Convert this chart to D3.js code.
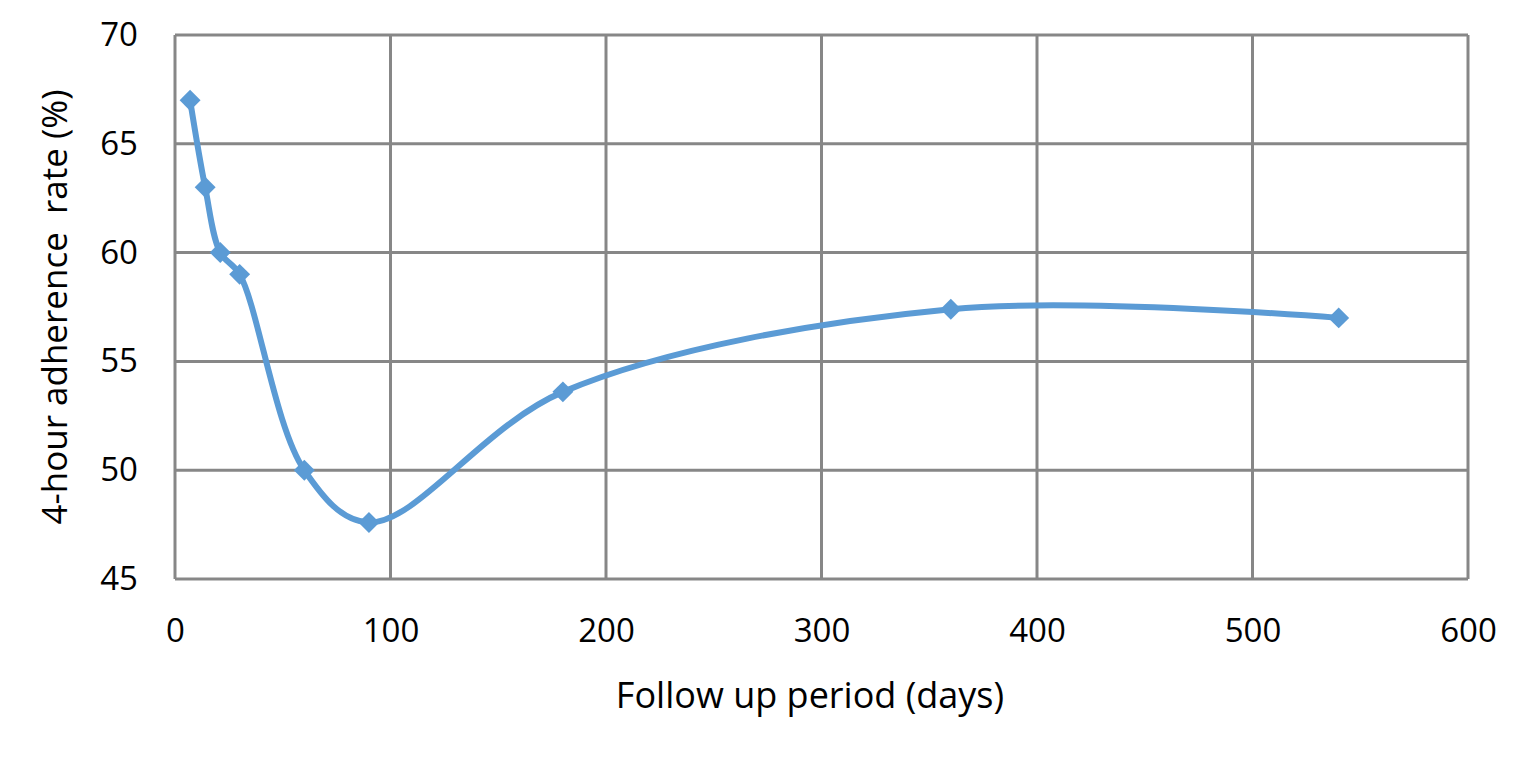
<!DOCTYPE html>
<html><head><meta charset="utf-8">
<script src="https://cdn.jsdelivr.net/npm/d3@7"></script>
<style>
html,body{margin:0;padding:0;background:#fff;}
svg{display:block;}
text{font-family:"Open Sans","Liberation Sans",sans-serif;fill:#000;}
</style></head>
<body>
<svg id="chart" width="1522" height="763"></svg>
<script>
const days = [7, 14, 21, 30, 60, 90, 180, 360, 540];
const adherence = [67, 63, 60, 59, 50, 47.6, 53.6, 57.4, 57];
const xTicks = [0, 100, 200, 300, 400, 500, 600];
const yTicks = [45, 50, 55, 60, 65, 70];
const xTitle = "Follow up period (days)";
const yTitle = "4-hour adherence  rate (%)";

const svg = d3.select("#chart");
const W = 1522, H = 763;
const m = {left:175, right:W-1468, top:35, bottom:H-579};
const x = d3.scaleLinear().domain([0,600]).range([m.left, W-m.right]);
const y = d3.scaleLinear().domain([45,70]).range([H-m.bottom, m.top]);

const grid = svg.append("g");
grid.selectAll(".v").data(xTicks).join("line")
  .attr("x1",d=>x(d)).attr("x2",d=>x(d)).attr("y1",y(45)).attr("y2",y(70))
  .attr("stroke","#878787").attr("stroke-width",3);
grid.selectAll(".h").data(yTicks).join("line")
  .attr("x1",x(0)).attr("x2",x(600)).attr("y1",d=>y(d)).attr("y2",d=>y(d))
  .attr("stroke","#878787").attr("stroke-width",3);

const xAxis = svg.append("g").attr("transform",`translate(0,${y(45)})`)
  .call(d3.axisBottom(x).tickValues(xTicks).tickSize(0).tickPadding(40).tickFormat(d3.format("d")));
xAxis.select(".domain").remove();
xAxis.selectAll("text").style("font-size","33px").attr("fill","#000");

const yAxis = svg.append("g").attr("transform",`translate(${x(0)},0)`)
  .call(d3.axisLeft(y).tickValues(yTicks).tickSize(0).tickPadding(37).tickFormat(d3.format("d")));
yAxis.select(".domain").remove();
yAxis.selectAll("text").style("font-size","33px").attr("fill","#000");

svg.append("text").attr("x",810).attr("y",708).attr("text-anchor","middle")
  .style("font-size","36px").text(xTitle);
svg.append("text").attr("transform",`translate(67,${307}) rotate(-90)`).attr("text-anchor","middle")
  .style("font-size","35px").style("white-space","pre").text(yTitle);

const pts = days.map((d,i)=>[d, adherence[i]]);
const line = d3.line().x(d=>x(d[0])).y(d=>y(d[1])).curve(d3.curveCatmullRom.alpha(0.5));
svg.append("path").datum(pts).attr("d",line).attr("fill","none")
  .attr("stroke","#5B9BD5").attr("stroke-width",6).attr("stroke-linejoin","round");

svg.selectAll(".pt").data(pts).join("path")
  .attr("transform",d=>`translate(${x(d[0])},${y(d[1])})`)
  .attr("d",d3.symbol().type(d3.symbolDiamond2).size(280))
  .attr("fill","#5B9BD5");
</script>
</body></html>
